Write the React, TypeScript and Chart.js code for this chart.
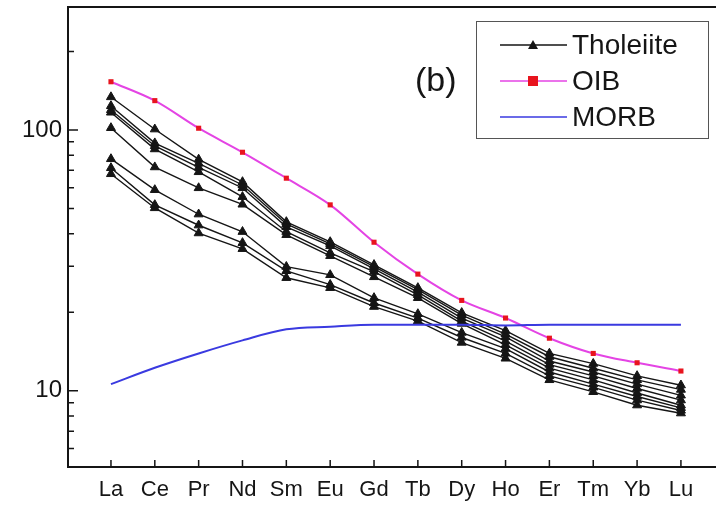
import React, { useEffect, useRef } from "react";
import { Chart, registerables } from "chart.js";

Chart.register(...registerables);

const ELEMENTS = ["La", "Ce", "Pr", "Nd", "Sm", "Eu", "Gd", "Tb", "Dy", "Ho", "Er", "Tm", "Yb", "Lu"];

const OIB = [153, 129.5, 101.5, 82.1, 65.3, 51.6, 37.1, 28.0, 22.2, 19.0, 15.9, 13.9, 12.8, 11.9];
const MORB = [10.6, 12.25, 13.9, 15.6, 17.2, 17.6, 17.9, 17.9, 17.9, 17.8, 17.9, 17.9, 17.9, 17.9];

const SAMPLE_1 = [133.7, 100.6, 77.1, 63.2, 44.4, 37.2, 30.4, 24.8, 19.9, 17.0, 13.9, 12.7, 11.4, 10.5];
const SAMPLE_2 = [123.6, 89.0, 74.4, 61.5, 43.6, 36.6, 29.9, 24.4, 19.5, 16.5, 13.5, 12.2, 11.0, 10.1];
const SAMPLE_3 = [119.3, 86.8, 71.8, 59.9, 42.5, 35.9, 29.3, 23.9, 19.0, 16.1, 13.0, 11.8, 10.6, 9.6];
const SAMPLE_4 = [116.7, 84.4, 69.0, 55.4, 40.7, 33.8, 28.6, 23.3, 18.5, 15.5, 12.6, 11.4, 10.2, 9.2];
const SAMPLE_5 = [101.8, 72.0, 59.9, 51.8, 39.6, 32.9, 27.3, 22.7, 18.1, 15.0, 12.2, 11.0, 9.8, 8.8];
const SAMPLE_6 = [77.4, 58.9, 47.5, 40.7, 29.9, 27.8, 22.7, 19.7, 16.7, 14.5, 11.8, 10.6, 9.5, 8.6];
const SAMPLE_7 = [71.5, 51.6, 43.1, 36.9, 28.8, 25.5, 21.7, 19.0, 16.0, 13.9, 11.4, 10.3, 9.2, 8.4];
const SAMPLE_8 = [67.8, 50.2, 40.2, 35.0, 27.1, 24.8, 21.0, 18.5, 15.3, 13.3, 11.0, 9.9, 8.8, 8.2];

const THOLEIITE_SAMPLES = [SAMPLE_1, SAMPLE_2, SAMPLE_3, SAMPLE_4, SAMPLE_5, SAMPLE_6, SAMPLE_7, SAMPLE_8];

const Y_MAJOR_TICKS = [10, 100];
const Y_MINOR_TICKS = [6, 7, 8, 9, 20, 30, 40, 50, 60, 70, 80, 90, 200];

const LEGEND_LABELS = ["Tholeiite", "OIB", "MORB"];
const PANEL_LABEL = "(b)";

const FONT = "'Liberation Sans', Arial, Helvetica, sans-serif";
const MAGENTA = "#e444e4";
const RED = "#e8141e";
const BLUE = "#3a3ae0";
const INK = "#151515";

const toPoints = (arr: number[]) => arr.map((v, i) => ({ x: i, y: v }));

const overlayPlugin = {
  id: "overlay",
  afterDraw(chart: any) {
    const { ctx, chartArea, scales } = chart;
    const { left, right, top, bottom } = chartArea;
    const x = scales.x;
    const y = scales.y;
    ctx.save();
    ctx.strokeStyle = INK;
    ctx.lineCap = "butt";
    // frame: left, bottom, top
    ctx.lineWidth = 2;
    ctx.beginPath();
    ctx.moveTo(left, top);
    ctx.lineTo(right, top);
    ctx.moveTo(left, top - 1);
    ctx.lineTo(left, bottom + 1);
    ctx.moveTo(left - 1, bottom);
    ctx.lineTo(right, bottom);
    ctx.stroke();
    // inward ticks
    ctx.lineWidth = 1.5;
    ctx.beginPath();
    Y_MAJOR_TICKS.forEach((v) => {
      const py = y.getPixelForValue(v);
      ctx.moveTo(left, py);
      ctx.lineTo(left + 10, py);
    });
    Y_MINOR_TICKS.forEach((v) => {
      const py = y.getPixelForValue(v);
      ctx.moveTo(left, py);
      ctx.lineTo(left + 6, py);
    });
    ELEMENTS.forEach((_, i) => {
      const px = x.getPixelForValue(i);
      ctx.moveTo(px, bottom);
      ctx.lineTo(px, bottom - 7);
    });
    ctx.stroke();

    // panel label
    ctx.fillStyle = INK;
    ctx.font = `34px ${FONT}`;
    ctx.textBaseline = "middle";
    ctx.textAlign = "left";
    ctx.fillText(PANEL_LABEL, 415, 82);

    // legend box
    ctx.strokeStyle = "#555";
    ctx.lineWidth = 1;
    ctx.strokeRect(476.5, 21.5, 232, 117);
    const rows = [45, 81, 117];
    const colors = [INK, MAGENTA, BLUE];
    rows.forEach((ry, i) => {
      ctx.strokeStyle = colors[i];
      ctx.lineWidth = 1.5;
      ctx.beginPath();
      ctx.moveTo(500, ry);
      ctx.lineTo(567, ry);
      ctx.stroke();
    });
    // triangle marker
    ctx.fillStyle = INK;
    ctx.beginPath();
    ctx.moveTo(533, 40);
    ctx.lineTo(538, 49);
    ctx.lineTo(528, 49);
    ctx.closePath();
    ctx.fill();
    // square marker
    ctx.fillStyle = RED;
    ctx.fillRect(528, 76, 10, 10);
    // texts
    ctx.fillStyle = INK;
    ctx.font = `28px ${FONT}`;
    ctx.textBaseline = "middle";
    LEGEND_LABELS.forEach((t, i) => ctx.fillText(t, 572, rows[i] + 1));
    ctx.restore();
  },
};

export default function App() {
  const canvasRef = useRef<HTMLCanvasElement | null>(null);

  useEffect(() => {
    document.body.style.margin = "0";
    const canvas = canvasRef.current;
    if (!canvas) return;

    const tholeiiteSets = THOLEIITE_SAMPLES.map((s) => ({
      label: "Tholeiite",
      data: toPoints(s),
      borderColor: INK,
      backgroundColor: INK,
      borderWidth: 1.4,
      pointStyle: "triangle" as const,
      pointRadius: 5.2,
      pointBorderWidth: 1,
      tension: 0,
      order: 3,
    }));

    const chart = new Chart(canvas, {
      type: "line",
      data: {
        datasets: [
          {
            label: "MORB",
            data: toPoints(MORB),
            borderColor: BLUE,
            backgroundColor: BLUE,
            borderWidth: 2,
            pointRadius: 0,
            cubicInterpolationMode: "monotone",
            order: 1,
          },
          {
            label: "OIB",
            data: toPoints(OIB),
            borderColor: MAGENTA,
            backgroundColor: RED,
            borderWidth: 2,
            pointStyle: "rect",
            pointRadius: 3.6,
            pointBorderWidth: 0,
            cubicInterpolationMode: "monotone",
            order: 2,
          },
          ...tholeiiteSets,
        ] as any,
      },
      options: {
        responsive: false,
        animation: false,
        events: [],
        layout: { autoPadding: false, padding: { top: 7, left: 0, right: 0, bottom: 0 } },
        plugins: {
          legend: { display: false },
          tooltip: { enabled: false },
          title: { display: false },
        },
        scales: {
          x: {
            type: "linear",
            min: -0.98,
            max: 13.8,
            grid: { display: false, drawTicks: false },
            border: { display: false },
            afterBuildTicks: (scale: any) => {
              scale.ticks = ELEMENTS.map((_, i) => ({ value: i }));
            },
            afterFit: (scale: any) => {
              scale.height = 38;
              scale.paddingLeft = 0;
              scale.paddingRight = 0;
              scale.paddingTop = 0;
              scale.paddingBottom = 0;
            },
            ticks: {
              autoSkip: false,
              maxRotation: 0,
              padding: 10,
              color: INK,
              font: { family: FONT, size: 22 },
              callback: (v: any) => ELEMENTS[Math.round(Number(v))] ?? "",
            },
          },
          y: {
            type: "logarithmic",
            min: 5.1,
            max: 296,
            grid: { display: false, drawTicks: false },
            border: { display: false },
            afterBuildTicks: (scale: any) => {
              scale.ticks = Y_MAJOR_TICKS.map((v) => ({ value: v }));
            },
            afterFit: (scale: any) => {
              scale.width = 68;
              scale.paddingLeft = 0;
              scale.paddingRight = 0;
              scale.paddingTop = 0;
              scale.paddingBottom = 0;
            },
            ticks: {
              padding: 6,
              color: INK,
              font: { family: FONT, size: 24 },
              callback: (v: any) => String(v),
            },
          },
        },
      },
      plugins: [overlayPlugin],
    });

    return () => chart.destroy();
  }, []);

  return (
    <div style={{ position: "absolute", left: 0, top: 0, width: 716, height: 505, background: "#fff" }}>
      <canvas ref={canvasRef} width={716} height={505} style={{ display: "block" }} />
    </div>
  );
}
